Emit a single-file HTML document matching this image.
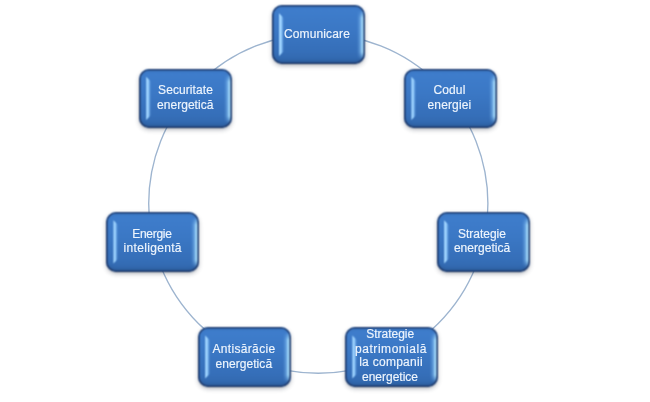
<!DOCTYPE html><html><head><meta charset="utf-8"><style>html,body{margin:0;padding:0;background:#fff;}
body{width:650px;height:402px;position:relative;overflow:hidden;font-family:"Liberation Sans",sans-serif;}
#w{position:absolute;left:0;top:0;width:650px;height:402px;filter:url(#bl);}
svg.ring{position:absolute;left:0;top:0;}
.b{position:absolute;width:93.0px;height:59.2px;border-radius:10px;overflow:hidden;
 background:linear-gradient(to bottom,#3f7ecd 0%,#3b78c5 40%,#356eb8 80%,#3066aa 100%);
 box-shadow:0 2px 4px rgba(30,40,60,.30), 0 1px 1px rgba(0,0,0,.12);}
.b .e{position:absolute;left:0;top:0;right:0;bottom:0;border-radius:10px;
 box-shadow:inset 0 0 0 1.6px rgba(32,58,105,.9), inset 1px 0 0 rgba(38,68,118,.4), inset 0 -1px 0 rgba(35,62,110,.5), inset 0 -3px 3px rgba(30,60,110,.3), inset 0 3px 2px rgba(40,80,140,.2);}
.b .l{position:absolute;left:7px;top:8px;bottom:8px;width:5px;
 background:linear-gradient(to right,rgba(165,215,255,1) 0%,rgba(155,210,255,1) 45%,rgba(120,180,240,.5) 75%,rgba(90,150,220,0));
 clip-path:polygon(0 0,0 100%,100% calc(100% - 5px),100% 5px);}
.b .r{position:absolute;right:1px;top:5px;bottom:4px;width:7px;
 background:linear-gradient(to right,rgba(120,190,240,0),rgba(140,200,248,.4) 40%,rgba(170,225,255,1) 80%,rgba(170,225,255,.85));
 -webkit-mask-image:linear-gradient(to bottom,transparent 0,#000 8px,#000 calc(100% - 8px),transparent 100%);}
.t{position:absolute;white-space:nowrap;color:#eef5fd;font-size:12px;line-height:16px;-webkit-text-stroke:.2px rgba(238,246,254,.85);}

#tw{position:absolute;left:0;top:0;width:650px;height:402px;will-change:transform;}
</style></head><body><svg width="0" height="0" style="position:absolute"><filter id="bl" x="0" y="0" width="100%" height="100%" color-interpolation-filters="sRGB"><feConvolveMatrix order="3" kernelMatrix="1 2 1 2 4 2 1 2 1" edgeMode="duplicate"/></filter></svg>
<svg class="ring" width="650" height="402"><circle cx="318.3" cy="203.6" r="169.6" fill="none" stroke="#9db4cf" stroke-width="1.35"/></svg>
<div id="w">
<div class="b" style="left:271.80px;top:5.00px"><div class="l"></div><div class="r"></div><div class="e"></div></div>
<div class="b" style="left:404.40px;top:68.86px"><div class="l"></div><div class="r"></div><div class="e"></div></div>
<div class="b" style="left:437.15px;top:212.34px"><div class="l"></div><div class="r"></div><div class="e"></div></div>
<div class="b" style="left:345.39px;top:327.40px"><div class="l"></div><div class="r"></div><div class="e"></div></div>
<div class="b" style="left:198.21px;top:327.40px"><div class="l"></div><div class="r"></div><div class="e"></div></div>
<div class="b" style="left:106.45px;top:212.34px"><div class="l"></div><div class="r"></div><div class="e"></div></div>
<div class="b" style="left:139.20px;top:68.86px"><div class="l"></div><div class="r"></div><div class="e"></div></div>
</div><div id="tw">
<div class="t" style="left:283.90px;top:25.84px;letter-spacing:0.14px">Comunicare</div>
<div class="t" style="left:433.50px;top:81.99px;letter-spacing:0.12px">Codul</div>
<div class="t" style="left:427.50px;top:96.89px;letter-spacing:0.14px">energiei</div>
<div class="t" style="left:457.90px;top:226.19px;letter-spacing:0.00px">Strategie</div>
<div class="t" style="left:453.90px;top:240.39px;letter-spacing:0.02px">energetică</div>
<div class="t" style="left:366.30px;top:325.79px;letter-spacing:-0.02px">Strategie</div>
<div class="t" style="left:355.00px;top:340.59px;letter-spacing:0.55px">patrimonială</div>
<div class="t" style="left:359.20px;top:354.49px;letter-spacing:0.27px">la companii</div>
<div class="t" style="left:362.00px;top:369.39px;letter-spacing:0.00px">energetice</div>
<div class="t" style="left:212.40px;top:340.69px;letter-spacing:0.34px">Antisărăcie</div>
<div class="t" style="left:215.50px;top:355.69px;letter-spacing:0.06px">energetică</div>
<div class="t" style="left:132.20px;top:226.19px;letter-spacing:-0.28px">Energie</div>
<div class="t" style="left:123.60px;top:240.39px;letter-spacing:0.32px">inteligentă</div>
<div class="t" style="left:158.10px;top:82.29px;letter-spacing:0.08px">Securitate</div>
<div class="t" style="left:157.00px;top:97.09px;letter-spacing:0.04px">energetică</div>
</div></body></html>
